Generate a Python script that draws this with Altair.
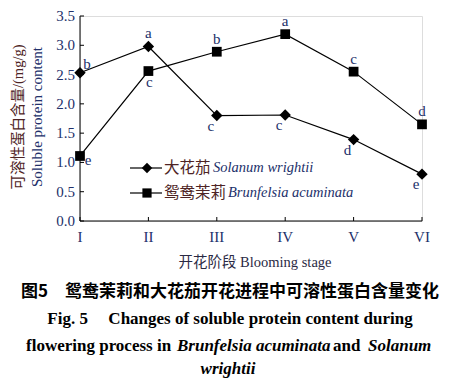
import altair as alt
import pandas as pd

stages = ["I", "II", "III", "IV", "V", "VI"]
solanum = [2.53, 2.98, 1.80, 1.81, 1.39, 0.80]
brunfelsia = [1.11, 2.56, 2.89, 3.19, 2.55, 1.65]
solanum_letters = ["b", "a", "c", "c", "d", "e"]
brunfelsia_letters = ["e", "c", "b", "a", "c", "d"]
solanum_place = ["ur", "above", "bl", "bl", "bl", "bl"]
brunfelsia_place = ["r", "below", "above", "above", "above", "above"]
y_ticks = [0.0, 0.5, 1.0, 1.5, 2.0, 2.5, 3.0, 3.5]

LAT = "Liberation Serif, Times New Roman, serif"
SERIF = "Liberation Serif, Times New Roman, Noto Sans CJK SC, serif"
CJK = "Noto Sans CJK SC"
NAVY = "#22306a"
BROWN = "#4e2424"

W, H = 342, 205
OX, OY = 80, 16  # page position of the plot origin

df = pd.DataFrame({
    "stage": stages * 2,
    "value": solanum + brunfelsia,
    "series": ["Solanum"] * 6 + ["Brunfelsia"] * 6,
    "letter": solanum_letters + brunfelsia_letters,
    "place": solanum_place + brunfelsia_place,
})

xscale = alt.Scale(type="point", padding=0)
yscale = alt.Scale(domain=[0, 3.5], nice=False, zero=True)
xenc = alt.X("stage:N", sort=stages, scale=xscale, axis=None)
yenc = alt.Y("value:Q", scale=yscale, axis=None)

base = alt.Chart(df)
lines = base.mark_line(color="black", strokeWidth=1.2).encode(x=xenc, y=yenc, detail="series:N")
pts_d = base.transform_filter(alt.datum.series == "Solanum").mark_point(
    shape="diamond", filled=True, color="black", size=130, opacity=1).encode(x=xenc, y=yenc)
pts_s = base.transform_filter(alt.datum.series == "Brunfelsia").mark_point(
    shape="square", filled=True, color="black", size=95, opacity=1).encode(x=xenc, y=yenc)

offsets = {"ur": (7, -9), "above": (0, -13), "below": (1, 11), "bl": (-6, 10), "r": (8, 4)}
label_layers = []
for p, (dx, dy) in offsets.items():
    label_layers.append(
        base.transform_filter(alt.datum.place == p).mark_text(
            dx=dx, dy=dy, font=LAT, fontSize=15, color=NAVY, baseline="middle"
        ).encode(x=xenc, y=yenc, text="letter:N")
    )

# axes drawn from the tick value lists
ytick_df = pd.DataFrame({"value": y_ticks})
yticks = alt.Chart(ytick_df).mark_rule(color="black", strokeWidth=1).encode(
    y=yenc, x=alt.value(0), x2=alt.value(4))
ylabels = alt.Chart(ytick_df).transform_calculate(
    lab="format(datum.value, '.1f')"
).mark_text(font=LAT, fontSize=15, color=NAVY, align="right", baseline="middle").encode(
    y=yenc, x=alt.value(-5), text="lab:N")
xtick_df = pd.DataFrame({"stage": stages})
xticks = alt.Chart(xtick_df).mark_rule(color="black", strokeWidth=1).encode(
    x=xenc, y=alt.value(H), y2=alt.value(H - 4))
xlabels = alt.Chart(xtick_df).mark_text(
    font=LAT, fontSize=15, color=NAVY, align="center", baseline="middle").encode(
    x=xenc, y=alt.value(H + 16), text="stage:N")
dom_df = pd.DataFrame({"k": ["axis"]})
ydomain = alt.Chart(dom_df).mark_rule(color="black", strokeWidth=1).encode(
    x=alt.value(0), y=alt.value(0), y2=alt.value(H))
xdomain = alt.Chart(dom_df).mark_rule(color="black", strokeWidth=1).encode(
    x=alt.value(0), x2=alt.value(W), y=alt.value(H))


def txt(s, px, py, size=14, font=SERIF, color="black", align="center", weight="normal",
        style="normal", angle=0):
    kw = dict(font=font, fontSize=size, color=color, align=align, baseline="middle",
              fontWeight=weight, fontStyle=style)
    if angle:
        kw["angle"] = angle
    return alt.Chart(pd.DataFrame({"t": [s]})).mark_text(**kw).encode(
        text="t:N", x=alt.value(px - OX), y=alt.value(py - OY))


deco = [
    # y title
    txt("可溶性蛋白含量/(mg/g)", 19, 117, size=14.5, font=SERIF, color=BROWN, angle=270),
    txt("Soluble protein content", 37, 117, size=15, font=LAT, color=NAVY, angle=270),
    # x title
    txt("开花阶段 Blooming stage", 255, 263, size=14.5, color="#2a2a44"),
    # legend
    txt("大花茄", 164, 168, size=15.5, font=CJK, color=BROWN, align="left"),
    txt("Solanum wrightii", 213, 168, size=14.5, font=LAT, color=NAVY, align="left", style="italic"),
    txt("鸳鸯茉莉", 164, 193, size=15.5, font=CJK, color=BROWN, align="left"),
    txt("Brunfelsia acuminata", 228, 193, size=14.5, font=LAT, color=NAVY, align="left", style="italic"),
    # caption
    txt("图5\u3000鸳鸯茉莉和大花茄开花进程中可溶性蛋白含量变化", 230, 292, size=17, font=CJK, weight="bold"),
    txt("Fig. 5\u2003\u2009Changes of soluble protein content during", 230, 319, size=17,
        font=LAT, weight="bold"),
    txt("flowering process in", 26, 346, size=17, font=LAT, weight="bold", align="left"),
    txt("Brunfelsia acuminata", 177, 346, size=17, font=LAT, weight="bold", style="italic", align="left"),
    txt("and", 333, 346, size=17, font=LAT, weight="bold", align="left"),
    txt("Solanum", 368, 346, size=17, font=LAT, weight="bold", style="italic", align="left"),
    txt("wrightii", 228, 369, size=17, font=LAT, weight="bold", style="italic"),
]

leg_df = pd.DataFrame({"k": ["a"]})
leg_lines = [
    alt.Chart(leg_df).mark_rule(color="black", strokeWidth=1.2).encode(
        x=alt.value(130 - OX), x2=alt.value(162 - OX), y=alt.value(168 - OY)),
    alt.Chart(leg_df).mark_rule(color="black", strokeWidth=1.2).encode(
        x=alt.value(130 - OX), x2=alt.value(162 - OX), y=alt.value(193 - OY)),
    alt.Chart(leg_df).mark_point(shape="diamond", filled=True, color="black", size=110, opacity=1).encode(
        x=alt.value(147 - OX), y=alt.value(168 - OY)),
    alt.Chart(leg_df).mark_point(shape="square", filled=True, color="black", size=85, opacity=1).encode(
        x=alt.value(147 - OX), y=alt.value(193 - OY)),
]

chart = alt.layer(
    ydomain, xdomain, yticks, xticks, ylabels, xlabels,
    lines, pts_d, pts_s, *label_layers, *leg_lines, *deco
).properties(
    width=W, height=H,
    autosize=alt.AutoSizeParams(type="none"),
    padding={"left": 72, "top": 8, "right": 25, "bottom": 157},
).configure_view(stroke=None).configure(background="white")

chart.save("out.html", embed_options={"renderer": "svg", "actions": False})
